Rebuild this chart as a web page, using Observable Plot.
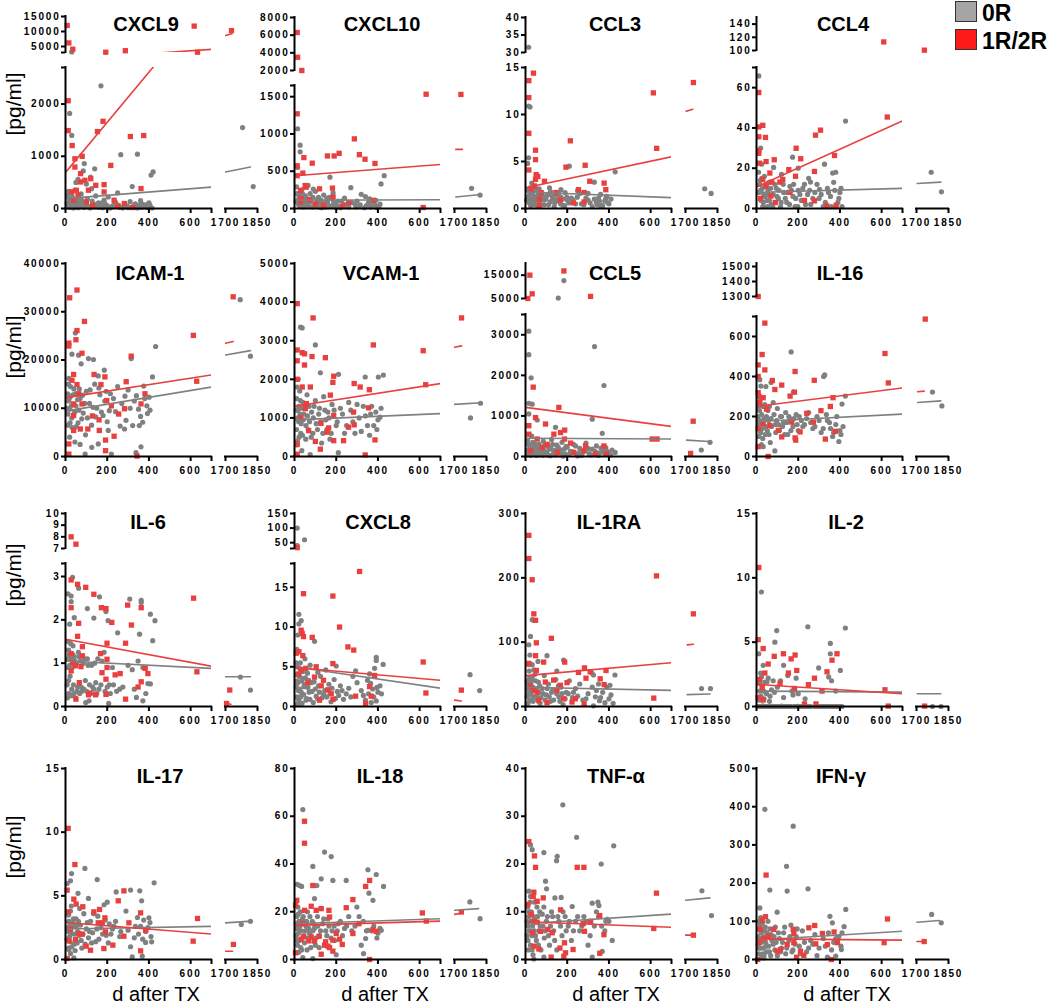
<!DOCTYPE html>
<html><head><meta charset="utf-8">
<script src="https://cdn.jsdelivr.net/npm/d3@7"></script>
<script src="https://cdn.jsdelivr.net/npm/@observablehq/plot@0.6"></script>
<style>
body{margin:0;background:#fff;}
#root{position:relative;width:1053px;height:1007px;overflow:hidden;font-family:"Liberation Sans",Arial,sans-serif;background:#fff;}
#root svg{position:absolute;}
#root svg text{letter-spacing:1.8px;}
.lbl{position:absolute;white-space:nowrap;line-height:1;color:#000;}
</style></head><body><div id="root"></div>
<script>
// ---------------- DATA ----------------
const names = ["CXCL9","CXCL10","CCL3","CCL4","ICAM-1","VCAM-1","CCL5","IL-16","IL-6","CXCL8","IL-1RA","IL-2","IL-17","IL-18","TNF-α","IFN-γ"];
const groups = ["0R","1R/2R"];
const xMainTicks = [0,200,400,600];
const xMainEnd = 700;
const xRightTicks = [1700,1850];
const yMainMax = [2700,1650,15,70, 40000,5000,3500,700, 3.3,18,300,15, 15,80,40,500];
const yMainTicks = [[0,1000,2000],[0,500,1000,1500],[0,5,10,15],[0,20,40,60],
  [0,10000,20000,30000,40000],[0,1000,2000,3000,4000,5000],[0,1000,2000,3000],[0,200,400,600],
  [0,1,2,3],[0,5,10,15],[0,100,200,300],[0,5,10,15],
  [0,5,10,15],[0,20,40,60,80],[0,10,20,30,40],[0,100,200,300,400,500]];
const yUpperRange = {"CXCL9":[3000,15000],"CXCL10":[2000,8000],"CCL3":[30,40],"CCL4":[100,150],"CCL5":[5000,20000],"IL-16":[1300,1520],"IL-6":[7,10],"CXCL8":[30,150]};
const yUpperTicks = {"CXCL9":[5000,10000,15000],"CXCL10":[2000,4000,6000,8000],"CCL3":[30,35,40],"CCL4":[100,120,140],"CCL5":[5000,15000],"IL-16":[1300,1400,1500],"IL-6":[7,8,9,10],"CXCL8":[50,100,150]};

// regression lines: [value at day 0, value at day 700]
const fit0R = [[190,410],[110,118],[1.75,1.15],[8,10],[9400,14400],[950,1110],[450,430],[175,212],[1.05,0.88],[5.0,2.3],[30,25],[1.2,1.12],[2.4,2.6],[15,17.1],[7.5,9.5],[51,74]];
const fit1R = [[690,4050],[440,590],[2.2,5.5],[10.7,43.5],[12200,16900],[1300,1890],[1210,740],[250,343],[1.55,0.93],[4.9,3.3],[48,68],[1.72,0.99],[2.9,2.0],[14.3,16.1],[7.9,6.75],[54,50.6]];
// regression pieces after the x-axis break: [x0,y0,x1,y1]
const dash0R = [[1700,698,1817,794],[1706,154,1811,185],null,[1703,12.4,1814,13.1],[1700,21050,1817,21950],[1700,1350,1825,1394],[1705,404,1811,371],[1705,270,1814,278],[1700,0.685,1817,0.685],null,[1708,18.4,1815,19.5],[1703,0.99,1814,0.99],[1700,2.88,1822,3.01],[1700,20.6,1813,21.3],[1700,12.4,1814,12.9],[1702,97.7,1807,102]];
const dash1R = [[1700,8670,1730,9220],[1706,793,1737,793],[1703,10.35,1734,10.56],null,[1700,23480,1736,23830],[1700,2831,1733,2866],null,[1705,324,1736,327],[1700,0.07,1725,0.05],[1700,0.8,1732,0.7],[1708,95.8,1737,96.8],null,[1700,0.65,1733,0.65],[1700,18.9,1740,19.5],[1700,5.1,1740,5.1],[1702,47,1733,47]];

// points [day, pg/ml]
const g_CXCL9 = [[20,1820],[30,1400],[170,2350],[265,1030],[345,1040],[410,640],[420,700],[90,860],[85,720],[140,760],[120,600],[60,560],[50,500],[100,470],[15,330],[30,300],[320,420],[250,300],[10,250],[25,180],[40,120],[55,80],[70,40],[80,150],[95,60],[110,30],[130,90],[150,50],[160,20],[175,110],[190,70],[200,30],[215,10],[230,60],[260,20],[280,40],[300,15],[330,60],[350,30],[370,80],[390,20],[400,110],[15,60],[35,30],[65,200],[105,180],[145,240],[185,160],[45,350],[75,280],[125,380],[205,220],[240,120],[310,130],[360,150],[380,40],[20,20],[8,100],[30,3200],[1780,1550],[1830,420]];
const gd_CXCL9 = [[12,40],[18,150],[22,90],[28,60],[33,220],[38,10],[42,70],[48,140],[52,30],[58,100],[62,15],[68,120],[78,60],[88,20],[98,90],[108,40],[118,10],[128,140],[138,30],[148,80],[158,110],[168,40],[178,15],[188,100],[198,60],[208,20],[222,40],[235,90],[255,60],[275,10],[295,50],[315,20],[335,90],[345,10],[355,60],[365,20],[385,70],[395,30],[405,60],[415,10]];
const r_CXCL9 = [[13,2063],[13,1492],[32,1206],[45,952],[45,794],[80,1000],[72,667],[93,540],[121,571],[145,444],[52,349],[72,508],[153,1473],[180,1670],[217,825],[311,1378],[375,1397],[185,457],[185,317],[233,159],[282,95],[322,19],[362,381],[30,320],[60,250],[100,120],[130,60],[40,160],[110,350],[250,40],[8,12000],[16,6200],[35,4100],[193,3100],[287,3600],[617,11800],[633,3100],[1728,10300]];
const g_CXCL10 = [[15,1070],[27,850],[27,760],[170,420],[270,280],[415,330],[430,440],[320,190],[340,160],[390,110],[15,550],[10,290],[20,180],[35,250],[45,140],[60,90],[75,200],[90,260],[100,230],[110,120],[125,60],[140,180],[150,90],[165,40],[180,130],[195,70],[210,30],[225,100],[240,50],[260,20],[290,60],[310,30],[355,80],[370,40],[400,20],[410,60],[50,40],[85,20],[130,10],[200,15],[20,60],[40,30],[65,310],[115,150],[155,140],[185,210],[240,140],[300,100],[360,130],[8,90],[1780,270],[1820,180]];
const gd_CXCL10 = [[12,200],[18,120],[22,40],[28,150],[33,80],[38,200],[42,20],[48,100],[52,170],[58,50],[62,130],[68,30],[78,90],[88,150],[98,40],[108,80],[118,20],[128,110],[138,60],[148,20],[158,90],[168,150],[178,30],[188,80],[198,40],[208,100],[222,10],[235,60],[255,30],[275,80],[295,20],[315,50],[335,10],[345,40],[365,20],[385,50],[395,10],[405,30]];
const r_CXCL10 = [[13,1270],[13,573],[13,440],[40,475],[45,683],[51,308],[56,286],[85,608],[32,132],[29,242],[120,264],[158,705],[190,705],[214,740],[182,273],[185,154],[287,934],[311,722],[338,661],[386,604],[378,110],[631,1533],[617,13],[29,88],[100,60],[70,120],[140,40],[230,30],[260,80],[13,6300],[15,3500],[35,2000],[1730,1530]];
const g_CCL3 = [[15,10.9],[22,10.8],[15,5.4],[10,4.8],[30,2.7],[210,4.5],[430,3.9],[330,2.8],[10,2.0],[20,1.5],[30,1.2],[40,0.8],[50,1.9],[60,1.1],[70,0.5],[80,1.6],[90,0.9],[100,1.3],[110,0.4],[120,1.8],[130,1.0],[140,0.6],[150,1.4],[160,0.8],[170,1.2],[180,0.3],[190,1.7],[200,0.9],[220,1.1],[240,0.5],[260,1.6],[280,0.4],[300,0.9],[320,0.2],[340,0.6],[350,1.1],[360,0.3],[380,0.8],[400,0.5],[410,1.0],[25,0.3],[45,2.3],[65,2.1],[115,2.2],[170,2.0],[250,1.9],[300,1.6],[360,1.5],[390,1.3],[5,0.9],[15,31.5],[1790,2.1],[1820,1.6]];
const gd_CCL3 = [[12,1.2],[18,0.6],[22,2.2],[28,0.9],[33,1.6],[38,0.4],[42,1.3],[48,0.7],[52,1.1],[58,0.2],[62,1.5],[68,0.8],[78,1.2],[88,0.4],[98,1.0],[108,1.5],[118,0.7],[128,1.3],[138,0.2],[148,0.9],[158,1.6],[168,0.5],[178,1.0],[188,0.3],[198,1.2],[208,0.6],[228,0.9],[248,1.2],[268,0.5],[290,1.1],[310,0.6],[330,1.0],[345,0.4],[355,0.8],[370,0.3],[385,1.1],[395,0.6]];
const r_CCL3 = [[16,13.6],[16,11.8],[38,14.4],[16,8.0],[16,4.1],[48,6.2],[48,5.2],[51,3.6],[59,3.4],[48,3.1],[43,2.4],[27,2.0],[67,1.0],[91,2.9],[75,1.7],[194,4.4],[215,7.2],[229,0.6],[254,2.0],[286,4.6],[308,2.9],[281,1.7],[281,0.7],[385,2.0],[377,2.7],[613,12.3],[629,6.4],[146,1.7],[167,0.9],[67,0.3],[1737,13.4]];
const g_CCL4 = [[11,65.8],[427,43.4],[173,25.5],[326,22],[365,17.6],[259,13.1],[82,20.4],[302,9.5],[10,18],[15,12],[20,9],[25,15],[35,7],[40,11],[50,4],[55,9],[60,13],[70,2],[80,7],[95,10],[105,5],[115,1],[130,8],[145,3],[160,11],[175,6],[185,1],[200,9],[215,4],[230,12],[245,7],[260,2],[280,8],[300,5],[320,1],[340,10],[355,6],[370,13],[390,3],[400,8],[410,1],[20,30],[25,22],[30,1],[120,17],[200,20],[250,15],[380,18],[1769,18],[1817,8.3]];
const gd_CCL4 = [[12,8],[18,14],[22,4],[28,10],[33,3],[38,16],[42,6],[48,12],[52,1],[58,7],[62,4],[68,10],[78,1],[88,12],[98,6],[108,9],[118,3],[128,12],[138,5],[148,8],[158,2],[168,9],[178,12],[188,5],[198,1],[208,7],[222,10],[235,2],[255,9],[270,5],[290,12],[310,7],[330,3],[345,8],[360,1],[375,9],[395,5],[405,10]];
const r_CCL4 = [[11,57.6],[11,35.6],[11,40.5],[30,41.3],[43,35.3],[11,28.7],[11,27.4],[14,22.5],[46,23.3],[30,14.4],[64,17.6],[85,24.2],[73,13.1],[69,6.2],[112,13.1],[46,11.1],[190,29.9],[212,24.7],[155,19.3],[126,14.4],[187,16],[278,18.4],[283,36.4],[307,38.9],[374,26.3],[278,3.8],[337,1.3],[382,1.6],[627,45.4],[20,5],[90,3],[160,8],[230,4],[610,113],[1737,100.5]];
const g_ICAM1 = [[47,25600],[31,21200],[63,21000],[75,19200],[110,20300],[134,20100],[16,16200],[186,17900],[157,16700],[432,22800],[417,16500],[315,20300],[283,5700],[322,6400],[354,6400],[370,7100],[393,8900],[401,12300],[362,2000],[338,800],[220,500],[94,500],[126,1900],[157,2600],[205,5400],[10,13000],[15,11500],[20,9800],[25,12500],[30,8000],[40,14000],[50,10500],[60,7000],[70,12000],[85,9000],[100,13500],[115,11000],[125,6500],[140,15000],[150,10000],[165,12800],[180,8500],[195,13500],[210,9500],[230,12000],[250,14500],[270,11000],[290,7500],[300,13800],[330,11500],[350,9800],[375,14600],[390,10500],[20,4000],[45,3000],[70,2500],[12,6500],[1769,32500],[1817,20800]];
const gd_ICAM1 = [[8,10000],[12,8800],[14,15000],[18,12000],[22,7000],[24,14500],[28,10500],[32,6000],[36,12800],[44,9200],[48,13000],[52,6200],[58,11800],[64,9600],[66,14000],[78,7800],[82,12700],[92,11000],[96,4500],[105,8000],[118,13800],[132,10200],[145,8200],[160,14200],[172,9200],[188,11500],[200,7200],[215,13000],[240,9300],[262,6300],[285,12500],[310,10000],[340,12600],[360,8300],[380,12000],[405,9600]];
const r_ICAM1 = [[20,32900],[55,34500],[55,26100],[50,24200],[16,23500],[16,22900],[91,28000],[79,21400],[39,17000],[31,15800],[55,14900],[63,13000],[39,10900],[79,10900],[39,8500],[39,5400],[71,5700],[107,5700],[137,17000],[129,8400],[161,7600],[170,14900],[189,16500],[198,11600],[192,3400],[192,1200],[162,5400],[233,4200],[220,10500],[255,8800],[283,9900],[291,15500],[315,20800],[381,13000],[362,10900],[343,100],[613,25100],[629,15600],[16,500],[16,2600],[1736,33100]];
const g_VCAM1 = [[37,3330],[29,3350],[100,2890],[124,2170],[211,2130],[339,2060],[402,2060],[426,2110],[410,1020],[10,1500],[15,1200],[20,900],[25,1700],[30,600],[40,1400],[45,1100],[55,800],[60,1600],[70,1300],[80,500],[90,1000],[100,1450],[110,700],[120,1250],[130,350],[140,1550],[150,950],[160,1150],[170,450],[180,1350],[200,800],[210,100],[220,1250],[240,600],[260,1400],[280,900],[300,1350],[320,650],[340,1050],[360,550],[370,1300],[380,800],[390,1150],[400,950],[415,1250],[12,300],[18,2000],[35,150],[75,50],[1775,1000],[1822,1380]];
const gd_VCAM1 = [[8,1200],[10,700],[12,1800],[14,400],[16,1000],[20,1300],[22,500],[26,1100],[28,1450],[32,850],[34,1250],[38,550],[42,950],[50,1350],[54,450],[62,1050],[66,700],[72,900],[82,1150],[88,600],[94,1300],[104,850],[116,1100],[126,900],[136,600],[146,1200],[155,700],[165,1000],[176,600],[190,1200],[205,900],[230,1100],[250,800],[270,1200],[290,600],[310,1000],[330,1300],[350,800],[365,1100],[395,700]];
const r_VCAM1 = [[13,3960],[13,2760],[13,2480],[13,2000],[37,2690],[48,2370],[48,2660],[84,2590],[89,3590],[37,1800],[76,1800],[148,2560],[52,1240],[57,1370],[29,1000],[68,670],[100,390],[13,320],[13,60],[124,190],[127,860],[156,630],[164,740],[172,1590],[188,2080],[184,1920],[188,1060],[188,410],[235,410],[259,760],[283,1150],[286,820],[286,1890],[315,1800],[359,1730],[355,1260],[378,2890],[386,430],[339,40],[617,2740],[629,1860],[1733,3590]];
const g_CCL5 = [[16,3090],[16,2510],[27,1940],[16,1310],[32,1290],[16,1050],[331,2710],[376,1750],[320,920],[368,570],[56,900],[144,720],[10,400],[20,250],[25,150],[35,350],[45,80],[55,200],[65,300],[75,120],[85,380],[95,50],[105,250],[115,180],[125,420],[135,90],[150,280],[165,160],[175,350],[190,60],[200,230],[215,130],[230,300],[245,40],[260,200],[275,110],[290,330],[305,70],[320,180],[340,260],[355,90],[370,140],[385,220],[400,50],[415,160],[430,100],[30,500],[60,40],[120,20],[180,10],[250,15],[184,12700],[157,5200],[1774,160],[1815,350]];
const gd_CCL5 = [[8,150],[12,50],[14,300],[18,100],[22,200],[24,30],[28,120],[32,250],[36,60],[42,180],[48,300],[52,30],[58,140],[62,260],[68,80],[72,200],[82,30],[88,150],[92,280],[102,100],[110,30],[122,200],[130,300],[140,150],[146,40],[158,220],[170,80],[185,180],[195,250],[210,50],[225,120],[240,260],[255,80],[270,30],[285,150],[300,200],[315,40],[335,120],[350,30],[362,210],[378,80],[392,130],[408,40]];
const r_CCL5 = [[16,760],[16,550],[37,1710],[48,960],[56,430],[96,800],[136,550],[160,1210],[168,590],[188,650],[187,430],[216,330],[232,100],[280,140],[288,260],[336,60],[376,260],[388,60],[607,430],[631,430],[24,140],[104,300],[152,100],[80,220],[21,15000],[32,7000],[11,5000],[184,16800],[312,5900],[1736,870],[1724,75]];
const g_IL16 = [[166,523],[322,400],[327,408],[410,262],[426,302],[177,322],[32,49],[88,28],[16,384],[21,352],[10,250],[15,180],[20,120],[25,210],[30,90],[40,260],[45,150],[55,230],[60,110],[70,190],[80,270],[90,160],[100,240],[110,130],[120,200],[130,170],[140,220],[150,110],[160,190],[175,150],[190,210],[200,130],[215,180],[230,160],[250,220],[270,140],[290,200],[310,120],[340,180],[355,140],[365,100],[380,160],[395,75],[400,130],[415,150],[12,300],[45,350],[70,370],[1775,322],[1819,253]];
const gd_IL16 = [[8,200],[10,160],[12,100],[14,230],[18,290],[22,170],[24,60],[28,140],[32,250],[36,190],[42,110],[48,200],[52,130],[58,180],[62,250],[66,70],[72,150],[84,210],[92,120],[96,180],[106,160],[115,200],[125,150],[135,110],[145,170],[155,200],[165,130],[180,190],[195,160],[205,200],[222,150],[240,190],[260,170],[280,150],[300,180],[320,140],[335,210],[350,170],[370,120],[385,200],[405,110]];
const r_IL16 = [[8,400],[8,458],[27,510],[40,667],[40,433],[8,319],[11,302],[16,270],[32,294],[48,237],[64,155],[8,139],[8,49],[56,0],[32,164],[76,380],[121,357],[88,335],[105,131],[121,98],[161,302],[182,322],[185,425],[169,172],[185,93],[188,82],[209,123],[241,216],[273,172],[277,381],[309,229],[330,87],[354,250],[367,294],[378,126],[616,515],[632,368],[8,1300],[1741,687]];
const g_IL6 = [[34,2.98],[27,2.55],[27,2.42],[42,2.05],[63,2.73],[105,2.26],[136,2.04],[163,2.53],[194,2.19],[204,1.98],[250,1.7],[308,2.48],[363,2.45],[363,2.4],[355,1.67],[407,2.13],[429,1.98],[418,1.52],[348,1.05],[371,0.9],[340,0.21],[371,0.13],[395,0.53],[407,0.52],[207,0.07],[113,0.13],[97,0.09],[10,1.1],[15,1.3],[20,0.95],[25,1.45],[30,0.4],[35,1.2],[40,0.3],[45,1.05],[55,0.35],[65,1.15],[75,0.45],[85,1.0],[95,0.6],[105,1.1],[115,0.5],[125,0.95],[135,0.4],[145,0.55],[155,1.1],[170,0.5],[185,1.25],[200,0.45],[215,0.3],[230,0.5],[260,0.4],[300,0.95],[320,0.85],[10,0.2],[15,0.6],[20,1.9],[12,2.6],[1770,0.68],[1817,0.38]];
const gd_IL6 = [[8,0.5],[12,0.9],[14,1.5],[16,0.3],[18,1.2],[22,0.7],[24,1.1],[28,0.25],[32,0.9],[36,1.4],[38,0.5],[42,1.15],[48,0.2],[52,1.0],[58,0.45],[62,1.25],[68,0.3],[72,1.05],[78,0.35],[88,0.4],[92,1.1],[102,0.35],[108,0.95],[120,0.3],[130,0.45],[140,1.0],[150,0.3],[160,0.4],[175,1.05],[190,0.35],[210,0.5],[225,0.9],[245,0.35],[275,0.45],[330,0.4],[385,0.3]];
const r_IL6 = [[27,2.92],[58,2.82],[97,2.75],[136,2.59],[172,2.28],[194,2.26],[27,2.28],[63,1.92],[58,1.62],[81,1.38],[27,1.22],[34,1.02],[47,0.94],[74,0.92],[81,1.17],[27,0.82],[66,0.55],[50,0.17],[116,0.31],[110,0.27],[144,0.27],[168,1.22],[175,0.78],[199,1.46],[199,1.09],[199,0.9],[194,0.63],[194,0.28],[222,1.94],[238,0.73],[262,0.76],[288,1.46],[298,2.34],[316,1.88],[288,0.17],[348,0.45],[363,2.28],[363,0.57],[382,0.88],[395,0.76],[614,2.5],[630,0.8],[27,8.0],[50,7.37],[1720,0.38],[1705,0.07]];
const g_CXCL8 = [[21,11.6],[21,10.4],[16,9.0],[32,10.8],[96,8.2],[11,7.2],[112,4.3],[200,5.1],[392,6.2],[392,5.8],[425,5.3],[384,4.8],[360,4.1],[293,4.5],[280,3.8],[248,1.6],[417,1.6],[392,0.7],[368,0.5],[8,5.5],[12,3.2],[18,2.0],[25,4.8],[30,1.2],[38,3.5],[45,2.5],[55,0.8],[62,4.2],[70,1.8],[80,3.0],[90,0.5],[100,2.2],[110,1.0],[125,3.8],[140,1.5],[150,4.6],[165,2.8],[175,0.6],[190,3.4],[205,1.9],[220,2.6],[235,0.9],[260,2.3],[300,3.0],[330,1.4],[350,3.3],[375,2.2],[400,1.8],[410,2.6],[15,0.3],[50,6.0],[75,5.2],[13,100],[48,60],[13,40],[1773,4.0],[1818,2.0]];
const gd_CXCL8 = [[8,2.5],[10,4.0],[12,1.2],[14,5.0],[16,3.0],[20,0.8],[22,3.8],[24,2.2],[28,5.5],[32,1.8],[34,3.2],[36,0.4],[40,4.4],[44,1.5],[48,2.8],[52,3.6],[58,1.0],[64,2.4],[68,3.3],[74,0.9],[84,1.9],[94,3.1],[104,1.3],[115,2.6],[120,1.8],[132,1.1],[145,2.0],[155,1.2],[170,1.7],[180,2.3],[196,1.0],[212,1.4],[228,2.0],[270,1.2],[320,2.0],[340,0.8],[355,1.6],[365,2.9],[380,1.2],[395,2.4]];
const r_CXCL8 = [[32,9.6],[37,9.2],[43,8.8],[43,14.2],[21,6.9],[8,6.7],[40,6.4],[32,4.6],[53,4.8],[21,4.1],[64,3.0],[85,8.7],[96,3.7],[104,5.0],[120,0.8],[128,2.6],[160,2.1],[139,3.3],[184,5.4],[184,13.9],[176,1.6],[184,0.9],[216,10.0],[256,7.5],[284,7.1],[293,1.3],[312,17.0],[341,0.4],[360,2.5],[384,3.9],[368,1.3],[617,5.6],[630,1.7],[13,33],[1732,2.06]];
const g_IL1RA = [[32,135],[40,134],[24,109],[16,96],[21,80],[16,65],[32,65],[40,57],[103,79],[183,72],[318,52],[326,49],[429,49],[405,33],[355,9],[381,6],[326,1],[8,40],[12,20],[20,45],[28,10],[35,30],[45,50],[55,15],[62,38],[70,5],[80,28],[90,48],[100,18],[110,35],[120,8],[130,25],[145,42],[160,15],[170,30],[180,3],[195,22],[210,40],[225,14],[240,28],[260,35],[275,10],[300,20],[340,25],[360,14],[390,30],[410,18],[420,5],[60,70],[150,55],[1775,28],[1817,28]];
const gd_IL1RA = [[8,15],[10,28],[12,5],[14,35],[16,20],[18,55],[20,10],[22,25],[26,38],[28,18],[32,45],[36,8],[38,28],[42,15],[48,40],[52,28],[58,10],[64,22],[68,32],[74,14],[84,20],[94,10],[104,28],[114,15],[125,22],[135,10],[150,20],[158,32],[165,8],[175,20],[190,12],[205,20],[230,22],[250,16],[290,12],[320,30],[335,15],[350,35],[370,22],[400,12]];
const r_IL1RA = [[16,266],[16,230],[32,197],[40,144],[48,134],[52,99],[48,79],[124,106],[87,69],[52,56],[16,67],[24,32],[40,25],[56,22],[64,9],[103,6],[95,38],[135,41],[151,25],[167,33],[188,69],[199,37],[183,12],[223,7],[239,12],[254,53],[283,60],[290,44],[281,4],[310,54],[358,43],[386,56],[377,34],[615,13],[628,203],[1737,144]];
const g_IL2 = [[24,8.9],[97,5.9],[88,5.0],[246,6.2],[426,6.1],[354,4.9],[354,4.1],[402,2.8],[346,2.3],[298,3.0],[32,3.2],[24,2.3],[11,4.1],[233,0.6],[10,0],[20,0],[30,0.05],[45,0],[60,0],[75,0.02],[90,0],[105,0],[120,0.03],[140,0],[160,0],[180,0],[200,0.02],[220,0],[240,0],[260,0],[300,0],[320,0],[340,0],[370,0],[390,0],[410,0],[15,1.8],[20,2.6],[35,1.2],[50,1.9],[65,0.8],[80,2.0],[100,1.5],[130,0.7],[150,2.4],[170,1.2],[190,2.2],[200,1.0],[130,3.2],[360,2.0],[380,1.2],[1775,0],[1815,0]];
const gd_IL2 = [[12,0],[14,0.5],[16,1.2],[18,0],[22,0.8],[26,0],[28,1.6],[32,0],[36,0.6],[40,1.9],[42,0],[48,1.0],[52,0],[56,2.2],[62,0.4],[68,0],[72,1.3],[82,0],[86,1.1],[95,0],[110,0],[115,2.0],[125,0],[135,0],[150,0],[165,0],[175,0.9],[185,0],[195,0],[210,0],[230,0],[250,0],[280,0],[290,0],[310,0],[330,0],[350,0],[360,0],[380,0],[400,0]];
const r_IL2 = [[11,10.8],[8,5.2],[32,4.5],[40,2.6],[56,3.3],[27,1.5],[16,2.1],[8,0.7],[32,0.5],[85,3.9],[129,4.1],[113,1.8],[153,2.6],[166,3.7],[185,4.0],[182,1.4],[193,2.8],[182,1.3],[230,0.2],[249,1.7],[278,2.2],[285,0.2],[314,1.2],[338,2.7],[362,3.6],[386,4.1],[616,1.3],[632,0.03],[1738,0.03]];
const g_IL17 = [[29,6.75],[24,6.18],[8,5.97],[93,7.15],[152,6.28],[243,5.31],[312,5.45],[356,5.39],[365,4.61],[425,6.02],[400,3.27],[384,1.34],[413,1.39],[312,1.0],[320,0.2],[368,0.26],[24,0.47],[16,0.79],[40,0.13],[10,2.5],[15,3.5],[20,1.8],[28,4.2],[35,2.9],[42,1.2],[50,3.2],[58,2.2],[68,4.0],[75,1.5],[88,3.6],[100,2.4],[110,1.7],[120,3.0],[130,2.1],[145,1.4],[155,3.4],[170,2.5],[185,4.3],[195,1.9],[210,2.8],[225,2.4],[240,3.0],[265,2.2],[290,3.8],[335,2.6],[350,2.0],[375,3.1],[395,2.5],[410,1.8],[60,5.2],[110,4.8],[200,4.5],[1774,2.75],[1817,3.0]];
const gd_IL17 = [[8,1.6],[12,2.2],[14,0.9],[16,3.0],[18,2.6],[22,1.4],[24,3.8],[26,2.0],[30,1.0],[32,2.6],[38,3.2],[44,2.0],[46,0.7],[52,2.6],[56,1.3],[62,3.0],[66,1.9],[72,2.7],[78,0.9],[84,2.0],[94,1.2],[104,2.9],[115,2.2],[125,1.3],[135,3.6],[150,2.4],[160,1.6],[178,2.0],[190,3.1],[205,1.3],[218,2.0],[232,2.6],[260,1.8],[300,2.3],[330,1.7],[345,3.3],[360,2.6],[370,1.6],[385,2.2],[405,2.9]];
const r_IL17 = [[13,10.3],[45,7.46],[8,5.45],[40,4.74],[51,4.35],[13,3.74],[24,2.36],[48,1.57],[16,1.47],[64,2.04],[83,4.14],[80,1.99],[99,1.05],[120,0.73],[136,3.74],[157,2.88],[163,3.93],[176,2.88],[184,0.86],[189,3.27],[192,2.17],[227,1.13],[253,4.61],[280,5.39],[280,1.83],[304,2.88],[360,3.66],[360,0.68],[384,2.3],[612,1.44],[633,3.22],[8,0.08],[1737,1.18]];
const g_IL18 = [[40,62.8],[144,45.0],[176,43.1],[88,39.0],[128,33.8],[184,33.1],[248,33.1],[352,37.6],[392,35.6],[427,30.6],[357,27.8],[376,24.8],[299,22.0],[107,31.0],[96,25.5],[13,31.5],[24,31.0],[34,30.6],[331,2.5],[320,6.0],[341,8.8],[352,12.2],[416,12.2],[88,0.4],[40,0.8],[8,15],[12,8],[18,19],[25,12],[30,5],[38,17],[45,10],[55,14],[62,20],[72,11],[85,16],[95,13],[110,18],[120,10],[135,15],[150,12],[160,17],[175,9],[190,14],[205,12],[220,16],[240,13],[260,18],[290,14],[330,16],[370,12],[400,11],[410,13],[20,3],[60,4],[100,6],[200,2],[1772,24.1],[1820,17.1]];
const gd_IL18 = [[8,10],[10,18],[12,13],[14,6],[16,22],[18,11],[22,16],[24,8],[26,14],[28,20],[32,12],[34,4],[36,15],[42,18],[48,7],[52,12],[58,16],[64,9],[68,13],[74,18],[78,5],[88,12],[92,15],[102,9],[112,14],[118,5],[125,12],[140,17],[155,10],[165,14],[180,12],[192,8],[210,15],[230,10],[250,14],[275,12],[310,18],[345,12],[380,14],[395,9]];
const r_IL18 = [[48,57.9],[48,48.7],[11,24.8],[5,22.7],[48,20.6],[88,31.0],[80,22.3],[104,20.6],[128,21.3],[165,20.6],[168,17.8],[40,15.0],[32,8.5],[43,9.5],[69,7.8],[80,9.5],[96,7.7],[117,9.7],[128,2.2],[144,6.0],[149,7.4],[160,5.6],[168,5.0],[184,3.5],[184,8.1],[200,10.9],[216,8.5],[229,6.3],[248,21.7],[280,25.1],[280,10.9],[309,15.0],[341,30.6],[360,33.1],[360,0],[376,12.5],[392,11.8],[613,19.5],[632,16.1],[5,2.8],[1732,19.9]];
const g_TNF = [[179,32.4],[245,25.6],[423,23.8],[363,20.0],[152,21.6],[149,20.7],[88,22.4],[32,23.0],[24,24.0],[96,16.4],[101,14.8],[171,13.0],[141,12.9],[224,11.1],[320,11.8],[347,12.0],[352,11.3],[16,14.3],[24,13.2],[392,8.4],[416,4.0],[368,1.7],[320,0.5],[88,0.5],[40,0.1],[8,8],[12,4],[18,10],[25,6],[32,2],[40,9],[48,5],[55,11],[62,3],[70,7],[80,9.5],[90,4.5],[100,8],[115,3],[125,10],[135,6],[150,2],[160,8],[175,5],[190,9],[205,7],[220,4],[240,8],[260,6],[280,9],[300,3],[330,7],[340,10],[380,6],[400,8],[1777,14.4],[1822,9.2]];
const gd_TNF = [[8,5],[10,11],[12,7],[14,2],[16,9],[18,6],[22,12],[24,3],[26,8],[28,10],[32,5],[34,7],[36,1],[42,6],[44,12],[48,8],[52,4],[58,9],[64,6],[68,10],[74,2],[84,7],[88,11],[94,6],[105,9],[110,5],[120,7],[130,9],[140,4],[155,9],[168,7],[180,10],[195,6],[210,8],[230,6],[250,9],[270,7],[290,8],[310,5],[350,9],[365,7],[385,8]];
const r_TNF = [[16,24.7],[43,21.7],[48,19.3],[248,19.3],[280,19.3],[40,14.1],[37,13.2],[85,12.9],[56,12.2],[11,11.5],[168,10.4],[27,9.5],[40,8.0],[56,7.8],[107,6.3],[72,5.9],[32,5.6],[128,5.6],[187,3.5],[64,2.2],[40,2.8],[123,0.5],[165,2.4],[192,1.4],[228,2.1],[184,0.7],[276,7.5],[283,5.9],[312,8.0],[356,9.2],[376,5.2],[356,1.3],[615,6.5],[628,13.9],[1737,5.1]];
const g_IFNG = [[40,393],[176,349],[144,244],[247,185],[147,179],[64,182],[16,135],[99,124],[428,131],[352,113],[364,96],[420,86],[407,26],[380,9],[340,6],[35,4],[8,60],[12,30],[18,90],[25,45],[30,15],[38,75],[45,35],[55,100],[62,20],[70,65],[80,40],[90,85],[100,10],[110,55],[120,30],[130,70],[140,15],[155,50],[165,90],[175,25],[190,60],[205,35],[220,75],[240,20],[260,50],[280,65],[300,30],[320,55],[345,70],[370,45],[395,60],[405,35],[20,110],[50,70],[1771,118],[1816,96]];
const gd_IFNG = [[8,40],[10,80],[12,15],[14,100],[16,55],[18,30],[22,70],[24,5],[26,50],[28,95],[32,30],[34,60],[36,10],[42,85],[44,45],[48,20],[52,60],[58,35],[64,80],[68,10],[74,50],[84,60],[88,25],[94,45],[105,70],[115,20],[125,45],[135,85],[145,30],[160,60],[170,20],[185,40],[195,80],[210,15],[230,45],[250,30],[270,40],[290,10],[330,35],[360,25],[380,55],[410,70]];
const r_IFNG = [[46,221],[43,112],[27,102],[19,79],[11,44],[35,54],[59,61],[83,79],[99,22],[115,26],[147,39],[176,79],[179,68],[179,44],[192,6],[211,22],[227,11],[251,83],[279,89],[284,41],[316,68],[340,39],[359,0],[372,72],[388,44],[612,44],[628,106],[6,0],[1736,47]];

const pts0R = [g_CXCL9.concat(gd_CXCL9),g_CXCL10.concat(gd_CXCL10),g_CCL3.concat(gd_CCL3),g_CCL4.concat(gd_CCL4),
  g_ICAM1.concat(gd_ICAM1),g_VCAM1.concat(gd_VCAM1),g_CCL5.concat(gd_CCL5),g_IL16.concat(gd_IL16),
  g_IL6.concat(gd_IL6),g_CXCL8.concat(gd_CXCL8),g_IL1RA.concat(gd_IL1RA),g_IL2.concat(gd_IL2),
  g_IL17.concat(gd_IL17),g_IL18.concat(gd_IL18),g_TNF.concat(gd_TNF),g_IFNG.concat(gd_IFNG)];
const pts1R = [r_CXCL9,r_CXCL10,r_CCL3,r_CCL4,r_ICAM1,r_VCAM1,r_CCL5,r_IL16,r_IL6,r_CXCL8,r_IL1RA,r_IL2,r_IL17,r_IL18,r_TNF,r_IFNG];

// ---------------- LAYOUT ----------------
const COLX = [65,294,525,756];
const ROWY = [208,456,706,959];
const MAIN_TOP = [67,85,67,67, 263,263,314,316, 563,563,513,513, 768,768,768,768];
const UPPER_PX = {"CXCL9":[16,52],"CXCL10":[17,70],"CCL3":[17,52],"CCL4":[17,50],"CCL5":[263,298],"IL-16":[263,296],"IL-6":[513,548],"CXCL8":[513,548]};
const TITLE_BASE = [31,280,529,783];
const TITLE_CX = [146,382,615,843, 150,381,615,840, 148,378,609,846, 160,380,616,841];
const YLAB_CY = [104,347,575,847];
const MAIN_W = 146, RIGHT_OFF = 160, RIGHT_W = 32;
const GREY = "#808080", RED = "#e8403f";
const FONT = "'Liberation Sans', Arial, sans-serif";

const root = document.getElementById("root");
function place(svg, left, top) { svg.style.left = left + "px"; svg.style.top = top + "px"; root.appendChild(svg); }
function label(text, left, top, css) {
  const d = document.createElement("div"); d.className = "lbl"; d.textContent = text;
  d.style.left = left + "px"; d.style.top = top + "px"; Object.assign(d.style, css); root.appendChild(d); return d;
}
const baseStyle = {background:"transparent", overflow:"visible", fontFamily:FONT, fontSize:"10px", fontWeight:"bold", color:"#000"};
const fitLine = f => [[0, f[0]], [xMainEnd, f[1]]];
const dashLine = d => d ? [[d[0], d[1]], [d[2], d[3]]] : [];
const X = d => d[0], Y = d => d[1];

function dataMarks(g, r, f0, f1, inReg) {
  return [
    Plot.dot(g.filter(inReg), {x:X, y:Y, r:2.6, fill:GREY, stroke:"none"}),
    Plot.dot(r.filter(inReg), {x:X, y:Y, r:3.0, symbol:"square", fill:RED, stroke:"none"}),
    Plot.line(f0, {x:X, y:Y, stroke:GREY, strokeWidth:1.6, clip:true}),
    Plot.line(f1, {x:X, y:Y, stroke:RED, strokeWidth:1.6, clip:true})
  ];
}

names.forEach((name, i) => {
  const col = i % 4, row = Math.floor(i / 4);
  const ax = COLX[col], rowY = ROWY[row], top = MAIN_TOP[i];
  const yMax = yMainMax[i], ticks = yMainTicks[i];
  const g = pts0R[i], r = pts1R[i];
  const up = yUpperRange[name];
  const upLo = up ? up[0] : Infinity;

  const ML = 42, MR = 4, MT = 4, MB = 28;
  const mainSvg = Plot.plot({
    width: MAIN_W + ML + MR, height: (rowY - top) + MT + MB,
    marginLeft: ML, marginRight: MR, marginTop: MT, marginBottom: MB,
    x: {domain: [0, xMainEnd], axis: null}, y: {domain: [0, yMax], axis: null},
    style: baseStyle,
    marks: [
      ...dataMarks(g, r, fitLine(fit0R[i]), fitLine(fit1R[i]), d => d[0] <= xMainEnd && d[1] <= yMax),
      Plot.ruleX([0], {strokeWidth: 2, strokeLinecap: "square"}),
      Plot.ruleY([0], {strokeWidth: 2, strokeLinecap: "square"}),
      Plot.axisY({ticks: Array.from(new Set([...ticks, yMax])), tickSize: 4, tickPadding: 1, strokeWidth: 2, label: null,
        tickFormat: d => ticks.includes(d) ? String(d) : ""}),
      Plot.axisX({ticks: [...xMainTicks, xMainEnd], tickSize: 5, tickPadding: 5, strokeWidth: 2, label: null,
        tickFormat: d => xMainTicks.includes(d) ? String(d) : ""})
    ]
  });
  place(mainSvg, ax - ML, top - MT);

  const RL = 22, RR = 22;
  const rightSvg = Plot.plot({
    width: RIGHT_W + RL + RR, height: (rowY - top) + MT + MB,
    marginLeft: RL, marginRight: RR, marginTop: MT, marginBottom: MB,
    x: {domain: [xRightTicks[0], xRightTicks[1]], axis: null}, y: {domain: [0, yMax], axis: null},
    style: baseStyle,
    marks: [
      ...dataMarks(g, r, dashLine(dash0R[i]), dashLine(dash1R[i]), d => d[0] >= xRightTicks[0] && d[1] <= yMax),
      Plot.ruleY([0], {strokeWidth: 2, strokeLinecap: "square"}),
      Plot.axisX({ticks: xRightTicks, tickSize: 5, tickPadding: 5, strokeWidth: 2, label: null, tickFormat: d => String(d)})
    ]
  });
  place(rightSvg, ax + RIGHT_OFF - RL, top - MT);

  if (up) {
    const [pt, pb] = UPPER_PX[name];
    const ut = yUpperTicks[name];
    const UB = 4;
    const upSvg = Plot.plot({
      width: MAIN_W + ML + MR, height: (pb - pt) + MT + UB,
      marginLeft: ML, marginRight: MR, marginTop: MT, marginBottom: UB,
      x: {domain: [0, xMainEnd], axis: null}, y: {domain: up, axis: null},
      style: baseStyle,
      marks: [
        ...dataMarks(g, r, fitLine(fit0R[i]), fitLine(fit1R[i]), d => d[0] <= xMainEnd && d[1] >= upLo),
        Plot.ruleX([0], {strokeWidth: 2, strokeLinecap: "square"}),
        Plot.axisY({ticks: Array.from(new Set([up[0], ...ut])), tickSize: 4, tickPadding: 1, strokeWidth: 2, label: null,
          tickFormat: d => ut.includes(d) ? String(d) : ""})
      ]
    });
    place(upSvg, ax - ML, pt - MT);
    const upRight = Plot.plot({
      width: RIGHT_W + RL + RR, height: (pb - pt) + MT + UB,
      marginLeft: RL, marginRight: RR, marginTop: MT, marginBottom: UB,
      x: {domain: [xRightTicks[0], xRightTicks[1]], axis: null}, y: {domain: up, axis: null},
      style: baseStyle,
      marks: dataMarks(g, r, dashLine(dash0R[i]), dashLine(dash1R[i]), d => d[0] >= xRightTicks[0] && d[1] >= upLo)
    });
    place(upRight, ax + RIGHT_OFF - RL, pt - MT);
  }

  label(name, TITLE_CX[i], TITLE_BASE[row] - 17, {fontSize: "20px", fontWeight: "bold", transform: "translateX(-50%)"});
  if (col === 0) {
    label("[pg/ml]", 13, YLAB_CY[row], {fontSize: "21px", transform: "translate(-50%,-50%) rotate(-90deg)"});
  }
  if (row === 3) {
    label("d after TX", ax + 91, 1001 - 17, {fontSize: "20px", transform: "translateX(-50%)"});
  }
});

// legend
const legendFill = ["#a5a5a5", "#ff1a1a"];
groups.forEach((gname, k) => {
  const sw = document.createElement("div");
  Object.assign(sw.style, {position: "absolute", left: "955px", top: (1 + 28 * k) + "px", width: "20px", height: "19px",
    background: legendFill[k], border: "1.5px solid #333"});
  root.appendChild(sw);
  label(gname, 982, (21 + 28 * k) - 19.5, {fontSize: "23px", fontWeight: "bold"});
});
</script>
</body></html>
